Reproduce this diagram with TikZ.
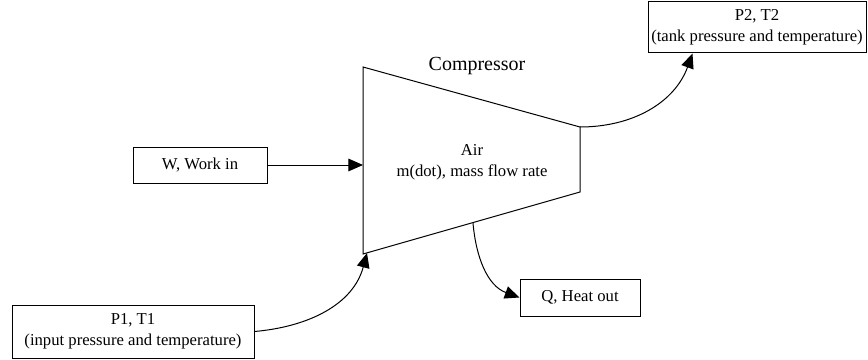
\documentclass[tikz,border=0pt]{standalone}
\usepackage{fontspec}
\setmainfont{Liberation Serif}
\usetikzlibrary{arrows.meta,calc}

\tikzset{every picture/.style={line width=0.75pt}}
\tikzset{
  box/.style={draw,rectangle,inner sep=0.75pt,align=center,font=\fontsize{12.5}{15.5}\selectfont},
  flow/.style={-{Triangle[length=11pt,width=9.5pt]}}
}

\begin{document}
\begin{tikzpicture}[x=0.75pt,y=0.75pt,yscale=-1,xscale=1]
    \useasboundingbox (0,0) rectangle (868,360);

    %Trapezoid (compressor body)
    \coordinate (ctl) at (363,67);
    \coordinate (ctr) at (580,127);
    \coordinate (cbr) at (580,192);
    \coordinate (cbl) at (363,254);
    \draw (ctl) -- (ctr) -- (cbr) -- (cbl) -- cycle;
    \coordinate (airin) at (367,253);
    \coordinate (heatout) at (473,223);

    % Text Node
    \node (title) at (477,66) [inner sep=0.75pt,font=\fontsize{15}{18}\selectfont] {Compressor};
    % Text Node
    \node (air) at (472,162) [inner sep=0.75pt,align=center,font=\fontsize{12.5}{15.5}\selectfont] {Air\\ m(dot), mass flow rate};

    % Boxes
    \node (work) at (200,165) [box,minimum width=100.5pt,minimum height=27pt] {W, Work in};
    \node (inlet) at (133,331.5) [box,minimum width=181.5pt,minimum height=39.75pt] {P1, T1\\ (input pressure and temperature)};
    \node (tank) at (757,27.5) [box,minimum width=163.5pt,minimum height=38.25pt] {P2, T2\\ (tank pressure and temperature)};
    \node (heat) at (580,297.5) [box,minimum width=90pt,minimum height=27.75pt] {Q, Heat out};

    % Connectors (angles flipped by yscale=-1)
    \draw [flow] (work.east) -- (work.east -| ctl);
    \draw [flow] (inlet.east) to[out=-5,in=105] (airin);
    \draw [flow] (ctr) to[out=0,in=110] ($(tank.south west)+(45,0)$);
    \draw [flow] (heatout) to[out=85,in=-160] (heat.west);

\end{tikzpicture}
\end{document}
